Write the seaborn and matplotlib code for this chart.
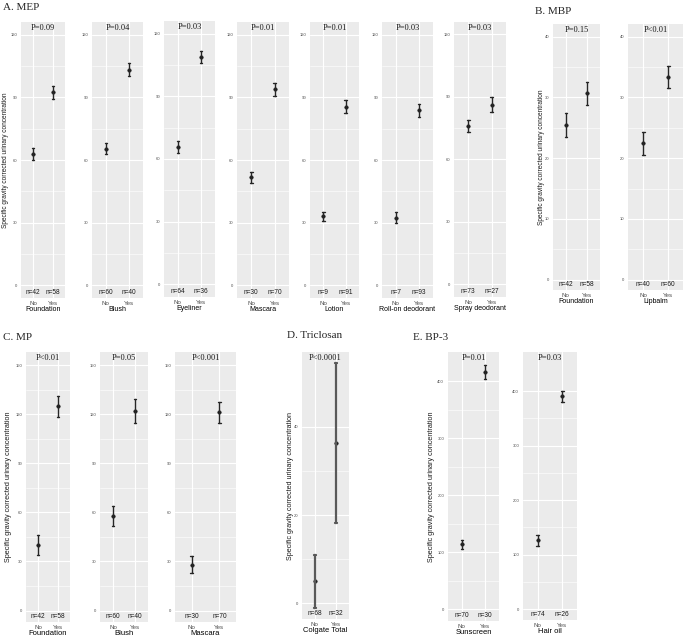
import numpy as np
import pandas as pd
import matplotlib
matplotlib.use("Agg")
import matplotlib.pyplot as plt
import matplotlib.transforms as mtransforms
import seaborn as sns

# ---- data ----
MEP_PRODUCTS = ["Foundation", "Blush", "Eyeliner", "Mascara", "Lotion", "Roll-on deodorant", "Spray deodorant"]
MEP_P = ["P=0.09", "P=0.04", "P=0.03", "P=0.01", "P=0.01", "P=0.03", "P=0.03"]
MEP_N = [(42, 58), (60, 40), (64, 36), (30, 70), (9, 91), (7, 93), (73, 27)]
MEP_MEAN = [(62.9, 92.5), (65.4, 103.1), (65.6, 108.7), (51.7, 93.9), (33.3, 85.5), (32.5, 83.9), (75.9, 86.3)]
MEP_LOW = [(60.0, 89.0), (62.7, 100.1), (62.7, 105.7), (48.9, 90.7), (31.0, 82.3), (29.8, 80.7), (73.1, 82.6)]
MEP_HIGH = [(65.6, 95.3), (68.3, 106.2), (68.4, 111.7), (54.4, 96.9), (35.3, 88.7), (35.3, 86.7), (78.8, 89.9)]

MBP_PRODUCTS = ["Foundation", "Lipbalm"]
MBP_P = ["P=0.15", "P<0.01"]
MBP_N = [(42, 58), (40, 60)]
MBP_MEAN = [(25.5, 30.7), (22.5, 33.4)]
MBP_LOW = [(23.5, 28.8), (20.6, 31.5)]
MBP_HIGH = [(27.5, 32.6), (24.3, 35.2)]

MP_PRODUCTS = ["Foundation", "Blush", "Mascara"]
MP_P = ["P<0.01", "P=0.05", "P<0.001"]
MP_N = [(42, 58), (60, 40), (30, 70)]
MP_MEAN = [(40.3, 124.8), (57.8, 122.1), (27.9, 121.1)]
MP_LOW = [(34.2, 118.5), (51.5, 114.6), (22.8, 114.4)]
MP_HIGH = [(46.4, 130.9), (63.7, 129.5), (33.4, 127.2)]

TCS_PRODUCTS = ["Colgate Total"]
TCS_P = ["P<0.0001"]
TCS_N = [(68, 32)]
TCS_MEAN = [(5.0, 36.4)]
TCS_LOW = [(-1.1, 18.3)]
TCS_HIGH = [(10.9, 54.6)]

BP3_PRODUCTS = ["Sunscreen", "Hair oil"]
BP3_P = ["P=0.01", "P=0.03"]
BP3_N = [(70, 30), (74, 26)]
BP3_MEAN = [(113.8, 416.0), (127.0, 390.7)]
BP3_LOW = [(105.0, 403.0), (116.6, 380.0)]
BP3_HIGH = [(121.4, 428.0), (136.0, 400.0)]

GROUPS = ["No", "Yes"]
YLABEL = "Specific gravity corrected urinary concentration"

W, H = 685, 641
SERIF = "Liberation Serif"
SANS = "Liberation Sans"

sns.set_style("white")
plt.rcParams["font.family"] = [SANS, "DejaVu Sans"]
fig = plt.figure(figsize=(W / 100, H / 100), dpi=100)


def box(l, t, r, b):
    return [l / W, 1 - b / H, (r - l) / W, (b - t) / H]


def draw_panel(pix, product, p, n, mean, low, high, ylim, ticks,
               ylabel_x=None, lab_size=5.0, err_color="#262626", err_lw=1.0):
    ax = fig.add_axes(box(*pix))
    df = pd.DataFrame({
        "group": [GROUPS[0]] * 3 + [GROUPS[1]] * 3,
        "value": [low[0], mean[0], high[0], low[1], mean[1], high[1]],
    })
    # median of (low, mean, high) is the mean; the 100% interval is low..high
    sns.pointplot(data=df, x="group", y="value", order=GROUPS,
                  estimator="median", errorbar=("pi", 100),
                  color="#1a1a1a", marker="o", markersize=2.5, markeredgewidth=0.4,
                  linestyle="none", capsize=0.12,
                  err_kws={"color": err_color, "linewidth": err_lw}, ax=ax)
    ax.set_xlim(-0.6, 1.6)
    ax.set_ylim(*ylim)
    ax.set_facecolor("#EBEBEB")
    for s in ax.spines.values():
        s.set_visible(False)
    ax.set_yticks(ticks)
    step = ticks[1] - ticks[0]
    ax.set_yticks([t + step / 2 for t in ticks[:-1]], minor=True)
    ax.set_axisbelow(True)
    ax.grid(which="major", color="white", linewidth=0.8)
    ax.grid(which="minor", axis="y", color="white", linewidth=0.4)
    ax.tick_params(which="major", length=1.8, width=0.5, color="#333333",
                   labelsize=3, labelcolor="#4D4D4D", pad=1)
    ax.tick_params(axis="x", labelsize=4.4, pad=0.5)
    ax.tick_params(which="minor", length=0)
    ax.set_xlabel(product, fontsize=lab_size, labelpad=0, color="black")
    if ylabel_x is not None:
        ax.set_ylabel(YLABEL, fontsize=lab_size - 0.3, color="#1a1a1a")
        # the rotated label is anchored on its right-hand (baseline) side
        ax.yaxis.set_label_coords((ylabel_x - pix[0]) / (pix[2] - pix[0]), 0.5)
    else:
        ax.set_ylabel("")
    trans = mtransforms.blended_transform_factory(ax.transData, ax.transAxes)
    for i, cnt in enumerate(n):
        ax.text(i, 0.02, f"n={cnt}", transform=trans, ha="center", va="center",
                fontsize=4.7, color="#1a1a1a")
    ax.text(0.5, 0.978, p, transform=ax.transAxes, ha="center", va="center",
            fontsize=6, family=SERIF, color="#1a1a1a")
    return ax


# ---- A. MEP ----
A_BOXES = [(21, 22, 65, 298), (92, 22, 143, 298), (164, 21, 215, 297), (237, 22, 289, 298),
           (310, 22, 359, 298), (382, 22, 433, 298), (454, 22, 506, 297)]
for i, pix in enumerate(A_BOXES):
    draw_panel(pix, MEP_PRODUCTS[i], MEP_P[i], MEP_N[i], MEP_MEAN[i], MEP_LOW[i], MEP_HIGH[i],
               (-6, 126), [0, 30, 60, 90, 120], ylabel_x=9 if i == 0 else None, lab_size=5.0)

# ---- B. MBP ----
B_BOXES = [(553, 24, 600, 290), (628, 24, 683, 290)]
for i, pix in enumerate(B_BOXES):
    draw_panel(pix, MBP_PRODUCTS[i], MBP_P[i], MBP_N[i], MBP_MEAN[i], MBP_LOW[i], MBP_HIGH[i],
               (-1.7, 42.1), [0, 10, 20, 30, 40], ylabel_x=545 if i == 0 else None, lab_size=5.0)

# ---- C. MP ----
C_BOXES = [(26, 352, 70, 622), (100, 352, 148, 622), (175, 352, 236, 622)]
for i, pix in enumerate(C_BOXES):
    draw_panel(pix, MP_PRODUCTS[i], MP_P[i], MP_N[i], MP_MEAN[i], MP_LOW[i], MP_HIGH[i],
               (-7, 158), [0, 30, 60, 90, 120, 150], ylabel_x=12 if i == 0 else None, lab_size=5.5)

# ---- D. Triclosan ----
draw_panel((302, 352, 349, 619), TCS_PRODUCTS[0], TCS_P[0], TCS_N[0], TCS_MEAN[0], TCS_LOW[0],
           TCS_HIGH[0], (-3.6, 57), [0, 20, 40], ylabel_x=294, lab_size=5.4,
           err_color="#595959", err_lw=1.6)

# ---- E. BP-3 ----
E_BOXES = [(448, 352, 499, 621), (523, 352, 577, 620)]
E_YLIM = [(-21, 451), (-20, 472)]
for i, pix in enumerate(E_BOXES):
    draw_panel(pix, BP3_PRODUCTS[i], BP3_P[i], BP3_N[i], BP3_MEAN[i], BP3_LOW[i], BP3_HIGH[i],
               E_YLIM[i], [0, 100, 200, 300, 400], ylabel_x=435 if i == 0 else None, lab_size=5.5)

# ---- group titles ----
for txt, x, y in [("A. MEP", 3, 8), ("B. MBP", 535, 11), ("C. MP", 3, 338),
                  ("D. Triclosan", 287, 336), ("E. BP-3", 413, 337)]:
    fig.text(x / W, 1 - y / H, txt, ha="left", va="center", fontsize=8, family=SERIF)

fig.savefig("out.png", dpi=100)
